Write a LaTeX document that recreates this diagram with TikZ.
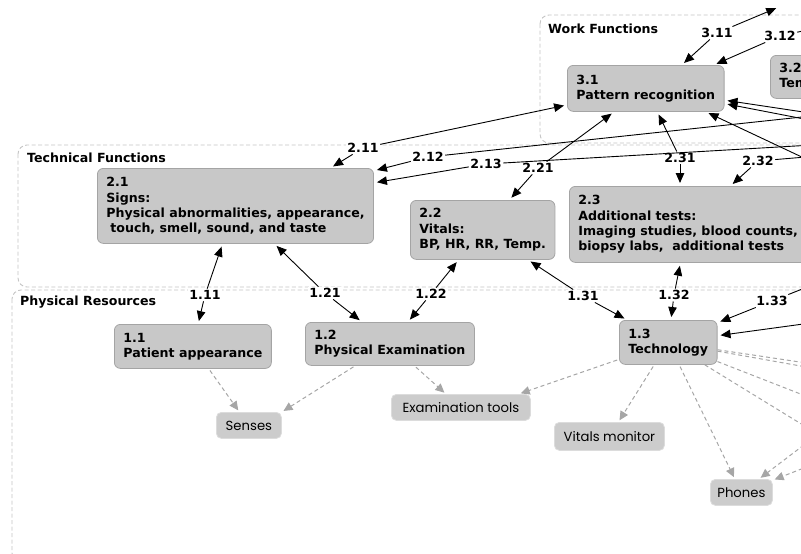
\documentclass[tikz,border=0pt]{standalone}
\usepackage{fontspec}
\setmainfont{DejaVu Sans}
\newfontfamily\roundfont{Poppins}
\usetikzlibrary{arrows.meta}
\definecolor{boxfill}{HTML}{C8C8C8}
\definecolor{boxline}{HTML}{A4A4A4}
\definecolor{softfill}{HTML}{CCCCCC}
\definecolor{softline}{HTML}{DCDCDC}
\definecolor{groupline}{HTML}{C4C4C4}
\definecolor{useline}{HTML}{A6A6A6}
\tikzset{
  func/.style={
      draw=boxline, fill=boxfill, line width=0.8pt,
      rounded corners=6pt, inner xsep=9pt, inner ysep=2pt,
      anchor=north west, align=left, minimum height=#1,
      font=\fontsize{12.6}{15.3}\selectfont\bfseries
  },
  res/.style 2 args={
      draw=softline, fill=softfill, line width=0.8pt, rounded corners=5pt,
      anchor=north west, minimum width=#1, minimum height=#2, inner sep=0pt,
      font=\roundfont\fontsize{13.2}{15}\selectfont
  },
  group/.style={
      draw=groupline, dash pattern=on 4pt off 2.5pt,
      line width=0.9pt, rounded corners=9pt
  },
  grouptitle/.style={anchor=west, inner sep=0pt, font=\fontsize{12.6}{15}\selectfont\bfseries},
  num/.style={fill=white, inner sep=1.5pt, font=\fontsize{12.6}{15}\selectfont\bfseries},
  wire/.style={line width=0.9pt},
  link/.style={wire, -{Triangle[length=10pt,width=8.5pt]}, shorten >=3pt},
  usesline/.style={draw=useline, line width=1pt, dash pattern=on 4pt off 3pt},
  uses/.style={usesline, -{Triangle[length=9pt,width=8.5pt]}, shorten >=2pt, shorten <=2pt}
}

\begin{document}
\begin{tikzpicture}[x=1pt,y=-1pt]
  \useasboundingbox (0,0) rectangle (801,554);
  \clip (0,0) rectangle (801,554);

  % groups
  \draw[group] (540,15) rectangle (880,143);
  \draw[group] (18,145) rectangle (880,287);
  \draw[group] (12,290) rectangle (880,562);
  \node[grouptitle] (wf) at (548,29) {Work Functions};
  \node[grouptitle] (tf) at (27,158) {Technical Functions};
  \node[grouptitle] (pr) at (20,302) {Physical Resources};

  % work functions
  \node[func=46] (p31) at (567,65) {3.1\\Pattern recognition};
  \node[func=43] (p32) at (770,55) {3.2\\Temporal};

  % technical functions
  \node[func=75] (s21) at (97,168) {2.1\\Signs:\\Physical abnormalities, appearance,\\\hspace{4pt}touch, smell, sound, and taste};
  \node[func=59] (s22) at (410,200) {2.2\\Vitals:\\BP, HR, RR, Temp.};
  \node[func=76] (s23) at (569,186) {2.3\\Additional tests:\\Imaging studies, blood counts,\\biopsy labs,\ \ additional tests};

  % physical resources
  \node[func=44] (r11) at (114,324) {1.1\\Patient appearance};
  \node[func=43] (r12) at (305,322) {1.2\\Physical Examination};
  \node[func=44] (r13) at (619,320) {1.3\\Technology};
  \node[res={65}{26}] (senses) at (216,412) {Senses};
  \node[res={139}{26}] (tools) at (391,394) {Examination tools};
  \node[res={110}{28}] (monitor) at (554,422) {Vitals monitor};
  \node[res={62}{26}] (phones) at (710,479) {Phones};

  % link numbers
  \node[num] (l311) at (717,33) {3.11};
  \node[num] (l312) at (780,36) {3.12};
  \node[num] (l211) at (363,148) {2.11};
  \node[num] (l212) at (428,157) {2.12};
  \node[num] (l213) at (486,164) {2.13};
  \node[num] (l221) at (538,168) {2.21};
  \node[num] (l231) at (680,158) {2.31};
  \node[num] (l232) at (758,161) {2.32};
  \node[num] (l111) at (205,295) {1.11};
  \node[num] (l121) at (325,293) {1.21};
  \node[num] (l122) at (431,294) {1.22};
  \node[num] (l131) at (583,296) {1.31};
  \node[num] (l132) at (674,295) {1.32};
  \node[num] (l133) at (772,301) {1.33};

  % ends outside the frame
  \coordinate (o311) at (779,7);
  \coordinate (o312) at (830,25);
  \coordinate (o31a) at (830,116);
  \coordinate (o31b) at (830,124);
  \coordinate (o31c) at (840,175);
  \coordinate (o212) at (830,114);
  \coordinate (o213) at (830,144);
  \coordinate (o232) at (830,155);
  \coordinate (o133) at (830,278);
  \coordinate (o13a) at (840,319);
  \coordinate (o13b) at (840,368);
  \coordinate (o13c) at (840,373);
  \coordinate (o13d) at (880,425);
  \coordinate (o13e) at (860,460);
  \coordinate (o13f) at (850,410);
  \coordinate (o13g) at (850,450);

  % work links
  \draw[link] (l311) -- ([xshift=36pt]p31.north);
  \draw[link] (l311) -- (o311);
  \draw[link] (l312) -- ([xshift=68pt]p31.north);
  \draw[wire] (l312) -- (o312);
  \draw[link] (o31a) -- (p31);
  \draw[link] (o31b) -- (p31);
  \draw[link] (o31c) -- ([xshift=60pt]p31.south);

  % technical links
  \draw[link] (l211) -- ([xshift=95pt]s21.north);
  \draw[link] (l211) -- (p31);
  \draw[link] (l212) -- (s21);
  \draw[wire] (l212) -- (o212);
  \draw[link] (l213) -- (s21);
  \draw[wire] (l213) -- (o213);
  \draw[link] (l221) -- (s22);
  \draw[link] (l221) -- (p31);
  \draw[link] (l231) -- (l231 |- s23.north);
  \draw[link] (l231) -- (p31);
  \draw[link] (l232) -- (s23);
  \draw[wire] (l232) -- (o232);

  % physical links
  \draw[link] (l111) -- (r11);
  \draw[link] (l111) -- (s21);
  \draw[link] (l121) -- (r12);
  \draw[link] (l121) -- (s21);
  \draw[link] (l122) -- (r12);
  \draw[link] (l122) -- (s22);
  \draw[link] (l131) -- (r13);
  \draw[link] (l131) -- (s22);
  \draw[link] (l132) -- (r13);
  \draw[link] (l132) -- (s23);
  \draw[link] (l133) -- (r13);
  \draw[wire] (l133) -- (o133);
  \draw[link] (o13a) -- (r13);

  % tools and senses
  \draw[uses] (r11) -- (senses);
  \draw[uses] (r12) -- (senses.north east);
  \draw[uses] (r12) -- (tools);
  \draw[uses] (r13) -- ([xshift=-12pt]tools.north east);
  \draw[uses] (r13) -- (monitor);
  \draw[uses] (r13) -- (phones);
  \draw[usesline] (r13) -- (o13b);
  \draw[usesline] (r13) -- (o13c);
  \draw[usesline] (r13) -- (o13d);
  \draw[usesline] (r13) -- (o13e);
  \draw[uses] (o13f) -- (phones);
  \draw[uses] (o13g) -- (phones);
\end{tikzpicture}
\end{document}
